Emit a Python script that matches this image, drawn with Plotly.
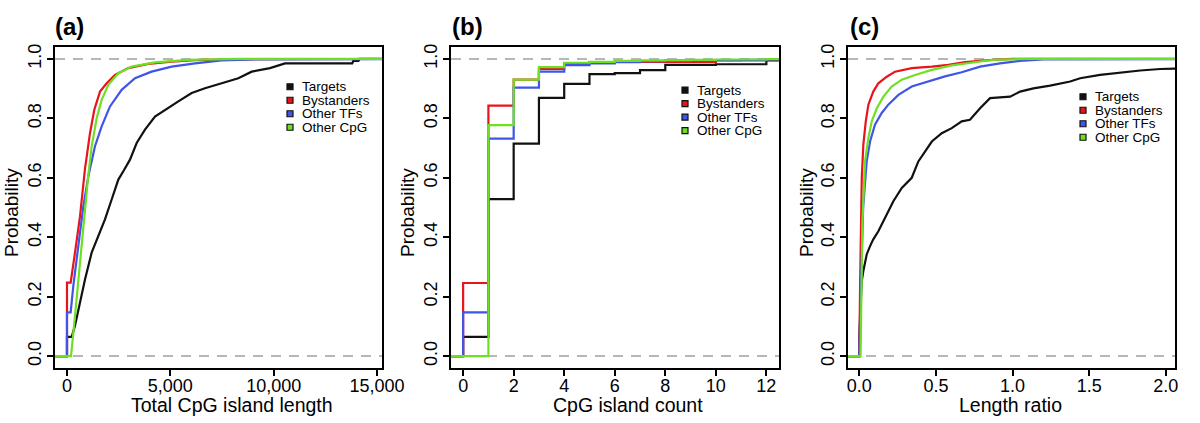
import plotly.graph_objects as go

W, H = 1200, 423

series_names = ["Targets", "Bystanders", "Other TFs", "Other CpG"]
series_colors = ["#111111", "#e8141c", "#3f55e8", "#6ee022"]

# ---- Panel (a): Total CpG island length ----
a_targets_x = [-1000, 0, 0, 227, 387, 629, 871, 1193, 1516, 1838, 2161, 2484, 2726, 3048, 3371, 3774, 4257, 4741, 5387, 6032, 6676, 7484, 8290, 8936, 9821, 10547, 13800, 13850, 14100, 14150, 20000]
a_targets_y = [0, 0, 0.065, 0.065, 0.102, 0.18, 0.258, 0.348, 0.404, 0.46, 0.527, 0.594, 0.622, 0.661, 0.717, 0.762, 0.806, 0.829, 0.857, 0.885, 0.901, 0.918, 0.935, 0.957, 0.969, 0.985, 0.985, 0.993, 0.993, 1.0, 1.0]
a_bystanders_x = [-1000, 0, 0, 177, 387, 629, 871, 1113, 1322, 1597, 1919, 2322, 2967, 3935, 5065, 6193, 9100, 20000]
a_bystanders_y = [0, 0, 0.247, 0.247, 0.348, 0.47, 0.63, 0.75, 0.829, 0.89, 0.918, 0.946, 0.969, 0.983, 0.991, 0.996, 0.999, 1.0]
a_othertfs_x = [-1000, 0, 0, 177, 306, 548, 790, 1032, 1355, 1677, 2080, 2645, 3290, 4096, 5065, 6193, 7483, 9100, 20000]
a_othertfs_y = [0, 0, 0.147, 0.147, 0.236, 0.37, 0.504, 0.605, 0.706, 0.773, 0.84, 0.896, 0.935, 0.957, 0.974, 0.985, 0.995, 0.998, 1.0]
a_othercpg_x = [-1000, 194, 387, 629, 871, 1032, 1193, 1435, 1677, 2000, 2484, 3129, 4257, 5870, 8300, 20000]
a_othercpg_y = [0, 0, 0.135, 0.31, 0.51, 0.61, 0.705, 0.8, 0.862, 0.913, 0.952, 0.974, 0.988, 0.997, 1.0, 1.0]

# ---- Panel (b): CpG island count (step ECDF) ----
b_x = [-1, 0, 1, 2, 3, 4, 5, 6, 7, 8, 9, 10, 11, 12, 13]
b_targets_y = [0, 0.065, 0.528, 0.715, 0.869, 0.916, 0.949, 0.952, 0.962, 0.98, 0.98, 0.982, 0.982, 0.995, 0.995]
b_bystanders_y = [0, 0.246, 0.843, 0.93, 0.966, 0.985, 0.988, 0.99, 0.99, 0.99, 0.99, 0.995, 0.995, 0.998, 0.998]
b_othertfs_y = [0, 0.147, 0.732, 0.903, 0.957, 0.979, 0.985, 0.989, 0.992, 0.994, 0.995, 0.996, 0.997, 0.998, 0.998]
b_othercpg_y = [0, 0, 0.777, 0.93, 0.972, 0.987, 0.99, 0.993, 0.995, 0.996, 0.997, 0.998, 0.998, 0.999, 0.999]

# ---- Panel (c): Length ratio ----
c_targets_x = [-0.2, 0.0, 0.0, 0.015, 0.026, 0.037, 0.048, 0.07, 0.091, 0.124, 0.157, 0.189, 0.222, 0.277, 0.342, 0.385, 0.429, 0.473, 0.538, 0.603, 0.668, 0.722, 0.788, 0.853, 0.984, 1.049, 1.136, 1.245, 1.376, 1.441, 1.571, 1.702, 1.833, 1.963, 2.1]
c_targets_y = [0, 0, 0.065, 0.25, 0.286, 0.309, 0.342, 0.37, 0.393, 0.42, 0.454, 0.482, 0.521, 0.566, 0.6, 0.655, 0.689, 0.722, 0.75, 0.767, 0.79, 0.795, 0.834, 0.868, 0.873, 0.89, 0.901, 0.91, 0.924, 0.935, 0.946, 0.954, 0.961, 0.966, 0.968]
c_bystanders_x = [-0.2, 0.0, 0.005, 0.016, 0.026, 0.042, 0.059, 0.091, 0.124, 0.179, 0.233, 0.342, 0.473, 0.581, 0.69, 0.85, 1.0, 3.0]
c_bystanders_y = [0, 0, 0.246, 0.6, 0.711, 0.79, 0.846, 0.89, 0.918, 0.94, 0.957, 0.969, 0.974, 0.98, 0.989, 0.996, 1.0, 1.0]
c_othertfs_x = [-0.2, 0.0, 0.005, 0.025, 0.048, 0.07, 0.102, 0.146, 0.189, 0.255, 0.342, 0.45, 0.559, 0.668, 0.788, 0.918, 1.049, 1.2, 3.0]
c_othertfs_y = [0, 0, 0.147, 0.5, 0.655, 0.722, 0.779, 0.818, 0.846, 0.879, 0.907, 0.924, 0.941, 0.955, 0.974, 0.985, 0.993, 0.998, 1.0]
c_othercpg_x = [-0.2, 0.008, 0.02, 0.037, 0.059, 0.081, 0.114, 0.157, 0.211, 0.277, 0.364, 0.473, 0.603, 0.755, 0.873, 1.1, 3.0]
c_othercpg_y = [0, 0, 0.45, 0.655, 0.734, 0.79, 0.834, 0.873, 0.907, 0.93, 0.946, 0.963, 0.978, 0.988, 0.997, 1.0, 1.0]

y_ticks = [0.0, 0.2, 0.4, 0.6, 0.8, 1.0]
a_xticks = [0, 5000, 10000, 15000]
b_xticks = [0, 2, 4, 6, 8, 10, 12]
c_xticks = [0.0, 0.5, 1.0, 1.5, 2.0]

panel_labels = ["(a)", "(b)", "(c)"]
x_titles = ["Total CpG island length", "CpG island count", "Length ratio"]
y_title = "Probability"

FONT = "Liberation Sans, Arial, Helvetica, sans-serif"

# layout geometry in pixels
boxes = [(55, 382), (451, 779), (848, 1175)]
box_top, box_bot = 47, 368
x_ranges = [[-580, 15240], [-0.48, 12.5], [-0.074, 2.06]]

def px(x):
    return x / W

def py(y):
    return 1 - y / H

fig = go.Figure()

panel_data = [
    [(a_targets_x, a_targets_y), (a_bystanders_x, a_bystanders_y), (a_othertfs_x, a_othertfs_y), (a_othercpg_x, a_othercpg_y)],
    [(b_x, b_targets_y), (b_x, b_bystanders_y), (b_x, b_othertfs_y), (b_x, b_othercpg_y)],
    [(c_targets_x, c_targets_y), (c_bystanders_x, c_bystanders_y), (c_othertfs_x, c_othertfs_y), (c_othercpg_x, c_othercpg_y)],
]

for p, data in enumerate(panel_data):
    xa = "x" if p == 0 else f"x{p+1}"
    ya = "y" if p == 0 else f"y{p+1}"
    for s, (xs, ys) in enumerate(data):
        fig.add_trace(go.Scatter(
            x=xs, y=ys, mode="lines", name=series_names[s],
            line=dict(color=series_colors[s], width=2.2, shape="hv" if p == 1 else "linear"),
            xaxis=xa, yaxis=ya, showlegend=False, hoverinfo="skip"))

tick_sets = [a_xticks, b_xticks, c_xticks]
tick_texts = [[f"{v:,}" for v in a_xticks], [str(v) for v in b_xticks], [f"{v:.1f}" for v in c_xticks]]

axis_common = dict(showline=True, mirror=True, linecolor="black", linewidth=2,
                   ticks="outside", ticklen=6, tickwidth=1.5, tickcolor="black",
                   showgrid=False, zeroline=False, automargin=False,
                   tickfont=dict(family=FONT, size=18, color="black"))

layout = dict(width=W, height=H, margin=dict(l=0, r=0, t=0, b=0),
              paper_bgcolor="white", plot_bgcolor="white", template="none",
              showlegend=False)

shapes = []
annotations = []
row_gap = 13.5
legend_geom = [(290, 300, 107.0), (685, 695, 110.3), (1083, 1093, 117.0)]
label_x = [53, 450, 848]
xtitle_cx = [232, 628, 1010]
ytitle_cx = [12, 408, 807]

for p in range(3):
    sfx = "" if p == 0 else str(p + 1)
    x0, x1 = boxes[p]
    layout["xaxis" + sfx] = dict(domain=[px(x0), px(x1)], range=x_ranges[p],
                                 anchor="y" + sfx, tickvals=tick_sets[p], ticktext=tick_texts[p],
                                 ticklabelstandoff=-6, **axis_common)
    layout["yaxis" + sfx] = dict(domain=[py(box_bot), py(box_top)], range=[-0.04, 1.04],
                                 anchor="x" + sfx, tickvals=y_ticks,
                                 ticktext=[f"{v:.1f}" for v in y_ticks], tickangle=-90,
                                 ticklabelstandoff=-1, **axis_common)
    xr = "x" + sfx + " domain" if sfx else "x domain"
    yr = "y" + sfx
    for yv in (0, 1):
        shapes.append(dict(type="line", xref=xr, x0=0, x1=1, yref=yr, y0=yv, y1=yv,
                           line=dict(color="#b4b8b8", width=2, dash="10px,8px"), layer="below"))
    # legend
    sqx, tx, cy = legend_geom[p]
    for s in range(4):
        ry = cy + (s - 1.5) * row_gap
        shapes.append(dict(type="rect", xref="paper", yref="paper",
                           x0=px(sqx - 3), x1=px(sqx + 3), y0=py(ry + 3), y1=py(ry - 3),
                           fillcolor=series_colors[s], line=dict(color="#111111", width=1.2)))
        annotations.append(dict(text=series_names[s], xref="paper", yref="paper",
                                x=px(tx), y=py(ry), xanchor="left", yanchor="middle",
                                showarrow=False, font=dict(family=FONT, size=13.5, color="black")))
    annotations.append(dict(text="<b>" + panel_labels[p] + "</b>", xref="paper", yref="paper",
                            x=px(label_x[p]), y=py(27), xanchor="left", yanchor="middle",
                            showarrow=False, font=dict(family=FONT, size=24, color="black")))
    annotations.append(dict(text=x_titles[p], xref="paper", yref="paper",
                            x=px(xtitle_cx[p]), y=py(405), xanchor="center", yanchor="middle",
                            showarrow=False, font=dict(family=FONT, size=19.5, color="black")))
    annotations.append(dict(text=y_title, xref="paper", yref="paper", textangle=-90,
                            x=px(ytitle_cx[p]), y=py(213), xanchor="center", yanchor="middle",
                            showarrow=False, font=dict(family=FONT, size=19, color="black")))

layout["shapes"] = shapes
layout["annotations"] = annotations
fig.update_layout(**layout)
fig.write_html("out.html", config={"displayModeBar": False},
               post_script="document.body.style.margin='0';document.body.style.overflow='hidden';")
